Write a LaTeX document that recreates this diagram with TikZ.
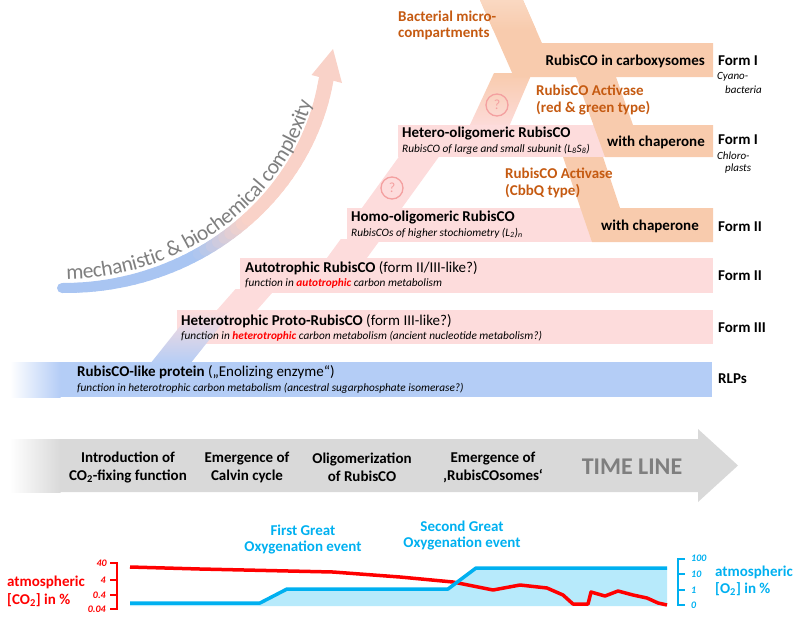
\documentclass[tikz,border=0pt]{standalone}
\usepackage{fontspec}
\setmainfont{Carlito}
\usetikzlibrary{decorations.text}
\definecolor{pinkbar}{HTML}{FDDCDC}
\definecolor{bluebar}{HTML}{B4CDF6}
\definecolor{orangebar}{HTML}{F8CBAD}
\definecolor{orangetxt}{HTML}{C55A11}
\definecolor{tlgray}{HTML}{D9D9D9}
\definecolor{txtgray}{HTML}{7F7F7F}
\definecolor{otwo}{HTML}{00B0F0}
\definecolor{otwofill}{HTML}{B7EAFB}
\definecolor{qred}{HTML}{F4A0A0}
\definecolor{armblue}{HTML}{A9C5F2}
\definecolor{armpink}{HTML}{F9D2C8}
\begin{document}
\begin{tikzpicture}[x=1pt,y=-1pt]
\tikzset{
  bartitle/.style={anchor=west, inner sep=0pt, font=\fontsize{15}{16}\selectfont},
  barsub/.style={anchor=west, inner sep=0pt, font=\fontsize{11.3}{12}\selectfont\itshape},
  formlbl/.style={anchor=west, inner sep=0pt, font=\fontsize{15}{16}\selectfont\bfseries},
  formsub/.style={anchor=west, inner sep=0pt, font=\fontsize{11}{12}\selectfont\itshape},
  orlbl/.style={anchor=west, inner sep=0pt, align=left, text=orangetxt, font=\fontsize{15}{16.5}\selectfont\bfseries},
  inbar/.style={anchor=east, inner sep=0pt, font=\fontsize{15}{16}\selectfont\bfseries},
  tllbl/.style={inner sep=0pt, align=center, font=\fontsize{15}{18}\selectfont\bfseries},
  qcirc/.style={circle, draw=qred, line width=1.3pt, minimum size=22pt, inner sep=0pt, text=qred, font=\fontsize{14}{14}\selectfont},
  oxlbl/.style={inner sep=0pt, align=center, text=otwo, font=\fontsize{15}{16}\selectfont\bfseries},
  axlbl/.style={inner sep=0pt, font=\fontsize{15}{16}\selectfont\bfseries},
  ticklbl/.style={inner sep=0pt, font=\fontsize{10}{11}\selectfont\bfseries\itshape},
  curve/.style={line width=3.5pt, line join=round},
  axisline/.style={line width=1.6pt}
}
\useasboundingbox (0,0) rectangle (800,619);

% ---------- trunk segments between the bars ----------
\fill[pinkbar] (213.5,314) -- (253.5,314) -- (275.5,289) -- (235.5,289) -- cycle;
\fill[pinkbar] (324,262) -- (364,262) -- (380.8,239) -- (340.8,239) -- cycle;
\fill[pinkbar] (359,212) -- (399,212) -- (441.6,153) -- (401.6,153) -- cycle;
\shade[top color=orangebar, middle color=pinkbar, bottom color=pinkbar] (468,129) -- (508,129) -- (532,73) -- (494,73) -- cycle;

% ---------- horizontal bars ----------
\fill[bluebar] (60,362) rectangle (712,397);
\shade[left color=white, right color=bluebar] (10,362) rectangle (60.5,397);
\fill[pinkbar] (177,310) rectangle (713,344);
\shade[top color=pinkbar, bottom color=bluebar] (150,364) -- (190,364) -- (233,310) -- (193,310) -- cycle;
\fill[pinkbar] (240,258) rectangle (713,293);
\fill[pinkbar] (347,208) rectangle (713,242);
\fill[pinkbar] (398,125) rectangle (713,157);

% ---------- orange branches ----------
\fill[orangebar] (480,0) -- (523,0) -- (541.9,43) -- (713,43) -- (713,77) -- (513.9,77) -- cycle;
\shade[top color=orangebar!75!white, bottom color=orangebar] (480,0) -- (523,0) -- (536.2,30) -- (493.2,30) -- cycle;
\fill[orangebar] (576,77) -- (616,77) -- (633,125) -- (713,125) -- (713,157) -- (605,157) -- cycle;
\fill[orangebar] (563,157) -- (603,157) -- (620,208) -- (713,208) -- (713,242) -- (592,242) -- cycle;

% ---------- question marks ----------
\node[qcirc] (q1) at (392,188) {?};
\node[qcirc] (q2) at (497,105) {?};

% ---------- complexity arrow ----------
\foreach \i in {1,...,48}{
  \pgfmathsetmacro\ta{(\i-1)/48}
  \pgfmathsetmacro\tb{\i/48}
  \pgfmathsetmacro\xa{(1-\ta)^3*62+3*(1-\ta)^2*\ta*195+3*(1-\ta)*\ta^2*306+\ta^3*326}
  \pgfmathsetmacro\ya{(1-\ta)^3*288+3*(1-\ta)^2*\ta*289+3*(1-\ta)*\ta^2*198+\ta^3*80}
  \pgfmathsetmacro\xb{(1-\tb)^3*62+3*(1-\tb)^2*\tb*195+3*(1-\tb)*\tb^2*306+\tb^3*326}
  \pgfmathsetmacro\yb{(1-\tb)^3*288+3*(1-\tb)^2*\tb*289+3*(1-\tb)*\tb^2*198+\tb^3*80}
  \pgfmathsetmacro\mix{max(0,min(100,(245-\xa)/50*100))}
  \pgfmathsetmacro\lw{10+5*\ta}
  \draw[line width=\lw pt, line cap=round, armblue!\mix!armpink] (\xa,\ya) -- (\xb,\yb);
}
\fill[armpink] (311.5,75) -- (333,49) -- (342,83) -- cycle;
\path[decorate, decoration={text along path, raise=9pt, text align={left indent=5pt},
  text={|\fontsize{21.5}{21.5}\selectfont\color{txtgray}|mechanistic {\&} biochemical complexity}}]
  (62,288) .. controls (195,289) and (306,198) .. (326,80);

% ---------- bar texts ----------
\node[bartitle] (rlpt) at (77,372) {\textbf{RubisCO-like protein} („Enolizing enzyme“)};
\node[barsub] (rlps) at (77,388) {function in heterotrophic carbon metabolism (ancestral sugarphosphate isomerase?)};
\node[bartitle] (f3t) at (181,321) {\textbf{Heterotrophic Proto-RubisCO} (form III-like?)};
\node[barsub] (f3s) at (181,336) {function in \textcolor{red}{\bfseries heterotrophic} carbon metabolism (ancient nucleotide metabolism?)};
\node[bartitle] (f2t) at (245,268) {\textbf{Autotrophic RubisCO} (form II/III-like?)};
\node[barsub] (f2s) at (245,283) {function in \textcolor{red}{\bfseries autotrophic} carbon metabolism};
\node[bartitle] (hot) at (351,218) {\textbf{Homo-oligomeric RubisCO}};
\node[barsub] (hos) at (351,233) {RubisCOs of higher stochiometry (L\textsubscript{2})\textsubscript{n}};
\node[bartitle] (het) at (402,134) {\textbf{Hetero-oligomeric RubisCO}};
\node[barsub] (hes) at (402,149) {RubisCO of large and small subunit (L\textsubscript{8}S\textsubscript{8})};
\node[inbar] (carb) at (705,61) {RubisCO in carboxysomes};
\node[inbar] (chap1) at (705,142) {with chaperone};
\node[inbar] (chap2) at (699,226) {with chaperone};

% ---------- orange labels ----------
\node[orlbl] (bmc) at (398,25.5) {Bacterial micro-\\compartments};
\node[orlbl] (act1) at (536,100) {RubisCO Activase\\(red \& green type)};
\node[orlbl] (act2) at (505,183) {RubisCO Activase\\(CbbQ type)};

% ---------- form labels ----------
\node[formlbl] (fa) at (718,61) {Form I};
\node[formsub] (fas1) at (717,77) {Cyano-};
\node[formsub] (fas2) at (725,90) {bacteria};
\node[formlbl] (fb) at (718,140) {Form I};
\node[formsub] (fbs1) at (717,156) {Chloro-};
\node[formsub] (fbs2) at (725,169) {plasts};
\node[formlbl] (fc) at (718,227) {Form II};
\node[formlbl] (fd) at (718,276) {Form II};
\node[formlbl] (fe) at (718,328) {Form III};
\node[formlbl] (ff) at (718,379) {RLPs};

% ---------- time line ----------
\fill[tlgray] (60,439) -- (698,439) -- (698,429) -- (738,465.5) -- (698,502) -- (698,492) -- (60,492) -- cycle;
\shade[left color=white, right color=tlgray] (10,439) rectangle (60.5,492);
\node[tllbl] (tl1) at (128,467) {Introduction of\\CO\textsubscript{2}-fixing function};
\node[tllbl] (tl2) at (247,467) {Emergence of\\Calvin cycle};
\node[tllbl] (tl3) at (362,467) {Oligomerization\\of RubisCO};
\node[tllbl] (tl4) at (493,467) {Emergence of\\‚RubisCOsomes‘};
\node[inner sep=0pt, text=txtgray, font=\fontsize{24}{24}\selectfont\bfseries] (tl) at (632,467) {TIME LINE};

% ---------- atmosphere chart ----------
\fill[otwofill] (130,606) -- (130,603) -- (260,603) -- (287,589) -- (448,589) -- (476,568) -- (667,568) -- (667,606) -- cycle;
\draw[red, curve] (130,567) -- (200,569) -- (333,572) -- (400,577) -- (453,582) -- (493,590) -- (520,585) -- (547,588) -- (563,595) -- (573,604) -- (588,604) -- (591,592) -- (605,596) -- (618,591) -- (633,595) -- (647,598) -- (658,603) -- (667,605);
\draw[otwo, curve] (130,603) -- (260,603) -- (287,589) -- (448,589) -- (476,568) -- (667,568);

\draw[red, axisline] (110,563) -- (117,563) -- (117,609) -- (110,609);
\draw[red, axisline] (110,580) -- (117,580);
\draw[red, axisline] (110,595) -- (117,595);
\node[ticklbl, text=red, anchor=east] (c40) at (107,563) {40};
\node[ticklbl, text=red, anchor=east] (c4) at (106,580) {4};
\node[ticklbl, text=red, anchor=east] (c04) at (106,595) {0.4};
\node[ticklbl, text=red, anchor=east] (c004) at (106,609) {0.04};
\node[axlbl, text=red, anchor=west] (co2a) at (7,582) {atmospheric};
\node[axlbl, text=red, anchor=west] (co2b) at (7,600) {[CO\textsubscript{2}] in \%};

\draw[otwo, axisline] (685,559) -- (678,559) -- (678,605) -- (685,605);
\draw[otwo, axisline] (678,574) -- (685,574);
\draw[otwo, axisline] (678,590) -- (685,590);
\node[ticklbl, text=otwo, anchor=west] (o100) at (691,558) {100};
\node[ticklbl, text=otwo, anchor=west] (o10) at (691,574) {10};
\node[ticklbl, text=otwo, anchor=west] (o1) at (691,590) {1};
\node[ticklbl, text=otwo, anchor=west] (o0) at (691,605) {0};
\node[axlbl, text=otwo, anchor=west] (o2a) at (715,572) {atmospheric};
\node[axlbl, text=otwo, anchor=west] (o2b) at (715,589) {[O\textsubscript{2}] in \%};

\node[oxlbl] (goe1) at (303,539.5) {First Great\\Oxygenation event};
\node[oxlbl] (goe2) at (462,535.5) {Second Great\\Oxygenation event};
\end{tikzpicture}
\end{document}
